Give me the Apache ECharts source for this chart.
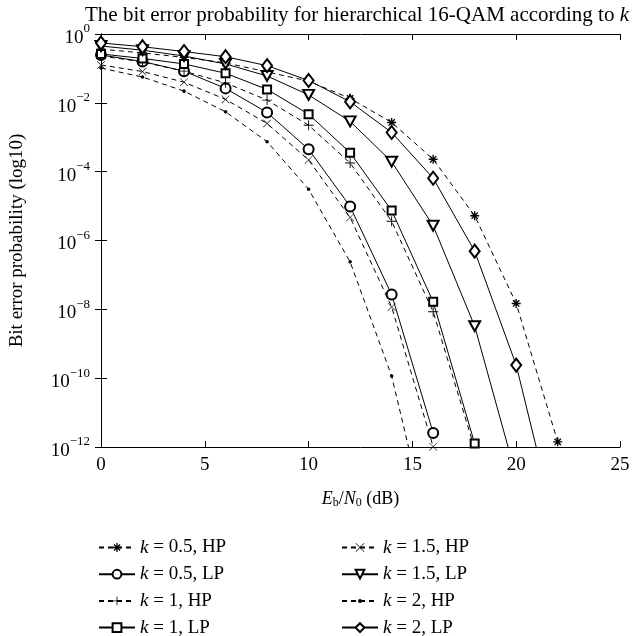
<!DOCTYPE html>
<html>
<head>
<meta charset="utf-8">
<script src="https://cdn.jsdelivr.net/npm/echarts@6/dist/echarts.min.js"></script>
<style>html,body{margin:0;padding:0;background:#fff}#c{width:634px;height:636px}</style>
</head>
<body>
<div id="c"></div>
<script>
// Eb/N0 (dB) sample points
const ebn0 = [0, 2, 4, 6, 8, 10, 12, 14, 16, 18, 20, 22];
// log10 of bit error probability
const k05HP_log = [-0.44, -0.55, -0.68, -0.84, -1.10, -1.37, -1.87, -2.57, -3.64, -5.28, -7.83, -11.85];
const k05LP_log = [-0.61, -0.80, -1.08, -1.58, -2.28, -3.35, -5.01, -7.57, -11.59];
const k1HP_log  = [-0.64, -0.81, -1.08, -1.42, -1.92, -2.65, -3.75, -5.44, -8.07, -12.05];
const k1LP_log  = [-0.58, -0.71, -0.87, -1.14, -1.61, -2.33, -3.45, -5.13, -7.78, -11.90];
const k15HP_log = [-0.90, -1.09, -1.40, -1.90, -2.60, -3.66, -5.33, -7.93, -11.99];
const k15LP_log = [-0.35, -0.47, -0.64, -0.87, -1.22, -1.77, -2.54, -3.71, -5.57, -8.49, -12.85];
const k2HP_log  = [-0.99, -1.25, -1.66, -2.26, -3.13, -4.51, -6.62, -9.94, -15.0];
const k2LP_log  = [-0.26, -0.37, -0.51, -0.66, -0.92, -1.35, -1.97, -2.86, -4.19, -6.31, -9.62, -14.56];
const seriesNames = ['k = 0.5, HP', 'k = 0.5, LP', 'k = 1, HP', 'k = 1, LP',
                     'k = 1.5, HP', 'k = 1.5, LP', 'k = 2, HP', 'k = 2, LP'];
const xTicks = [0, 5, 10, 15, 20, 25];

const FONT = '"Liberation Serif", "DejaVu Serif", serif';
const starPath = 'path://M8.5 0H11.5V20H8.5Z M0 8.5H20V11.5H0Z M4.05 1.93L18.07 15.95L15.95 18.07L1.93 4.05Z M15.95 1.93L18.07 4.05L4.05 18.07L1.93 15.95Z';
const plusPath = 'path://M9.1 0H10.9V20H9.1Z M0 9.1H20V10.9H0Z';
const xPath = 'path://M1 0L20 19L19 20L0 1Z M19 0L20 1L1 20L0 19Z';
const dotPath = 'path://M0 0L0.01 0L0 0.01Z M20 20L19.99 20L20 19.99Z M5.5 10A4.5 4.5 0 1 0 14.5 10A4.5 4.5 0 1 0 5.5 10Z';

function pts(logs) { return logs.map((v, i) => [ebn0[i], Math.pow(10, v)]); }

function mk(name, logs, dashed, symbol, size, filled, rotate) {
  return {
    name: name, type: 'line', data: pts(logs),
    xAxisIndex: 0, yAxisIndex: 0,
    symbol: symbol, symbolSize: size, symbolRotate: rotate || 0,
    showSymbol: true, clip: true, z: 3,
    lineStyle: { color: '#000', width: 1, type: dashed ? [5, 4] : 'solid' },
    itemStyle: filled ? { color: '#000', borderWidth: 0 } : { color: '#000', borderColor: '#000', borderWidth: 1 },
    emphasis: { disabled: true }
  };
}

const series = [
  mk(seriesNames[0], k05HP_log, true, starPath, 9, true),
  mk(seriesNames[1], k05LP_log, false, 'emptyCircle', 10, false),
  mk(seriesNames[2], k1HP_log, true, plusPath, 10, true),
  mk(seriesNames[3], k1LP_log, false, 'emptyRect', 8, false),
  mk(seriesNames[4], k15HP_log, true, xPath, 8, true),
  mk(seriesNames[5], k15LP_log, false, 'emptyTriangle', [11, 10], false, 180),
  mk(seriesNames[6], k2HP_log, true, dotPath, 8, true),
  mk(seriesNames[7], k2LP_log, false, 'emptyDiamond', [10, 13], false)
];

const supFmt = function (v) {
  const e = Math.round(Math.log10(v));
  return '{b|10}{s|' + (e === 0 ? '0' : '\u2212' + (-e)) + '}';
};

const legendCommon = {
  orient: 'vertical', top: 533, height: 120, itemWidth: 36, itemHeight: 11, itemGap: 7.7,
  selectedMode: false,
  textStyle: { fontFamily: FONT, fontSize: 19, color: '#000',
    rich: { i: { fontFamily: FONT, fontSize: 19, fontStyle: 'italic', color: '#000' } } },
  formatter: n => '{i|k}' + n.slice(1)
};

const option = {
  animation: false,
  backgroundColor: '#fff',
  grid: { left: 98.5, right: 14, top: 34, bottom: 189, containLabel: false },
  graphic: [{
    type: 'text', x: 357, y: 5, z: 10,
    style: {
      text: 'The bit error probability for hierarchical 16-QAM according to {i|k}',
      fontFamily: FONT, fontSize: 21, fill: '#000', align: 'center', verticalAlign: 'top',
      rich: { i: { fontFamily: FONT, fontSize: 21, fontStyle: 'italic', fill: '#000' } }
    }
  }],
  xAxis: [{
    type: 'value', min: xTicks[0], max: xTicks[xTicks.length - 1], interval: 5, position: 'bottom',
    axisLine: { show: true, lineStyle: { color: '#000', width: 1 } },
    axisTick: { show: true, inside: true, length: 6, lineStyle: { color: '#000' } },
    splitLine: { show: false },
    axisLabel: { fontFamily: FONT, fontSize: 19, color: '#000', margin: 9 },
    name: '{i|E}{sub|b}/{i|N}{sub|0} (dB)', nameLocation: 'middle', nameGap: 42,
    nameTextStyle: { fontFamily: FONT, fontSize: 18, color: '#000',
      rich: { i: { fontFamily: FONT, fontSize: 18, fontStyle: 'italic' },
              sub: { fontFamily: FONT, fontSize: 12, padding: [8, 0, 0, 0] } } }
  }, {
    type: 'value', min: 0, max: 25, interval: 5, position: 'top',
    axisLine: { show: true, lineStyle: { color: '#000', width: 1 } },
    axisTick: { show: true, inside: true, length: 6, lineStyle: { color: '#000' } },
    splitLine: { show: false }, axisLabel: { show: false }
  }],
  yAxis: [{
    type: 'log', logBase: 10, min: 1e-12, max: 1, interval: 2, position: 'left',
    axisLine: { show: true, lineStyle: { color: '#000', width: 1 } },
    axisTick: { show: true, inside: true, length: 6, lineStyle: { color: '#000' } },
    minorTick: { show: false }, splitLine: { show: false },
    axisLabel: { formatter: supFmt, margin: 11, color: '#000',
      rich: { b: { fontFamily: FONT, fontSize: 19, color: '#000', padding: [8, 0, 0, 0] },
              s: { fontFamily: FONT, fontSize: 13, color: '#000', padding: [0, 0, 10, 0] } } },
    name: 'Bit error probability (log10)', nameLocation: 'middle', nameGap: 74,
    nameTextStyle: { fontFamily: FONT, fontSize: 19, color: '#000' }
  }, {
    type: 'log', logBase: 10, min: 1e-12, max: 1, interval: 2, position: 'right',
    axisLine: { show: true, lineStyle: { color: '#000', width: 1 } },
    axisTick: { show: true, inside: true, length: 6, lineStyle: { color: '#000' } },
    minorTick: { show: false }, splitLine: { show: false }, axisLabel: { show: false }
  }],
  legend: [
    Object.assign({}, legendCommon, { left: 93, data: seriesNames.slice(0, 4) }),
    Object.assign({}, legendCommon, { left: 336, data: seriesNames.slice(4, 8) })
  ],
  series: series
};

const chart = echarts.init(document.getElementById('c'), null, { renderer: 'canvas' });
chart.setOption(option);
</script>
</body>
</html>
